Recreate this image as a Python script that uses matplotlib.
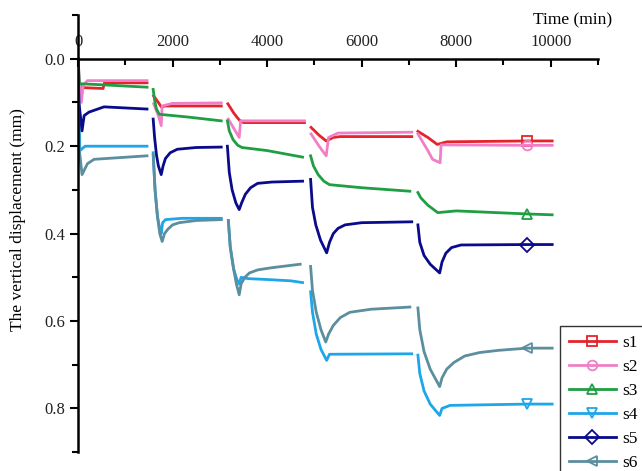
import numpy as np
import matplotlib
matplotlib.use("Agg")
import matplotlib.pyplot as plt
from matplotlib.ticker import MultipleLocator

plt.rcParams['font.family'] = ['Liberation Serif', 'DejaVu Serif']

nan = np.nan
labels = ['s1', 's2', 's3', 's4', 's5', 's6']
colors = ['#E5232B', '#F07FC8', '#1F9E43', '#1EA6EA', '#0A0A8C', '#5B8E9E']
markers = ['s', 'o', '^', 'v', 'D', '<']

# time (min) and displacement (mm), loading stages separated by nan
s1_t = [0, 20, 100, 530, 560, 1460, nan,
        1600, 1700, 1760, 1850, 3030, nan,
        3170, 3300, 3410, 3500, 4790, nan,
        4930, 5100, 5250, 5400, 5550, 7060, nan,
        7190, 7400, 7600, 7800, 9500, 10030]
s1_y = [0.0, 0.06, 0.066, 0.068, 0.055, 0.055, nan,
        0.085, 0.1, 0.11, 0.108, 0.108, nan,
        0.103, 0.125, 0.14, 0.146, 0.146, nan,
        0.157, 0.175, 0.188, 0.18, 0.178, 0.178, nan,
        0.166, 0.18, 0.196, 0.19, 0.188, 0.188]

s2_t = [0, 30, 70, 110, 200, 1460, nan,
        1600, 1700, 1760, 1780, 2000, 3030, nan,
        3180, 3300, 3410, 3440, 4790, nan,
        4930, 5100, 5250, 5300, 5500, 7060, nan,
        7190, 7400, 7500, 7660, 7680, 9500, 10030]
s2_y = [0.0, 0.05, 0.1, 0.06, 0.05, 0.05, nan,
        0.103, 0.13, 0.153, 0.108, 0.102, 0.101, nan,
        0.138, 0.16, 0.18, 0.142, 0.142, nan,
        0.172, 0.2, 0.222, 0.18, 0.17, 0.168, nan,
        0.172, 0.21, 0.23, 0.238, 0.197, 0.198, 0.198]

s3_t = [0, 30, 600, 1460, nan,
        1590, 1620, 1660, 1720, 2300, 3030, nan,
        3160, 3200, 3280, 3380, 3470, 4000, 4750, nan,
        4920, 4980, 5080, 5200, 5320, 6000, 7020, nan,
        7190, 7250, 7400, 7610, 8000, 9500, 10030]
s3_y = [0.0, 0.057, 0.06, 0.065, nan,
        0.07, 0.095, 0.115, 0.127, 0.133, 0.142, nan,
        0.142, 0.165, 0.185, 0.198, 0.203, 0.21, 0.225, nan,
        0.222, 0.245, 0.265, 0.28, 0.288, 0.295, 0.303, nan,
        0.306, 0.318, 0.335, 0.352, 0.348, 0.355, 0.357]

s4_t = [0, 40, 150, 1460, nan,
        1590, 1630, 1680, 1730, 1760, 1790, 1850, 2200, 3030, nan,
        3180, 3220, 3290, 3360, 3410, 3450, 3600, 4000, 4500, 4750, nan,
        4920, 4960, 5040, 5140, 5260, 5320, 7060, nan,
        7190, 7230, 7320, 7450, 7650, 7700, 7870, 9500, 10030]
s4_y = [0.0, 0.21, 0.2, 0.2, nan,
        0.215, 0.3, 0.36, 0.39, 0.40, 0.375, 0.368, 0.365, 0.365, nan,
        0.37, 0.43, 0.48, 0.505, 0.515, 0.5, 0.503, 0.505, 0.508, 0.512, nan,
        0.533, 0.58, 0.63, 0.665, 0.69, 0.676, 0.675, nan,
        0.678, 0.72, 0.76, 0.79, 0.816, 0.8, 0.793, 0.79, 0.79]

s5_t = [0, 20, 85, 130, 233, 550, 1460, nan,
        1590, 1620, 1660, 1700, 1760, 1800, 1850, 1950, 2100, 2500, 3030, nan,
        3160, 3200, 3260, 3340, 3410, 3460, 3540, 3650, 3800, 4100, 4750, nan,
        4920, 4960, 5030, 5130, 5260, 5320, 5400, 5500, 5650, 6000, 7060, nan,
        7190, 7230, 7320, 7450, 7650, 7700, 7780, 7900, 8100, 9500, 10030]
s5_y = [0.0, 0.1, 0.165, 0.13, 0.122, 0.11, 0.115, nan,
        0.138, 0.18, 0.22, 0.245, 0.265, 0.245, 0.228, 0.215, 0.207, 0.203, 0.202, nan,
        0.2, 0.26, 0.3, 0.33, 0.345, 0.33, 0.31, 0.295, 0.285, 0.282, 0.28, nan,
        0.276, 0.34, 0.38, 0.415, 0.444, 0.42, 0.4, 0.388, 0.38, 0.375, 0.373, nan,
        0.38, 0.42, 0.45, 0.47, 0.49, 0.465, 0.445, 0.432, 0.426, 0.425, 0.425]

s6_t = [0, 20, 85, 200, 340, 1460, nan,
        1590, 1630, 1680, 1730, 1780, 1830, 1900, 2000, 2140, 2500, 3030, nan,
        3180, 3220, 3290, 3350, 3410, 3450, 3530, 3625, 3800, 4100, 4700, nan,
        4920, 4960, 5040, 5140, 5240, 5300, 5400, 5550, 5750, 6200, 7020, nan,
        7190, 7230, 7320, 7450, 7650, 7700, 7800, 7950, 8180, 8500, 8900, 9500, 10030]
s6_y = [0.0, 0.2, 0.265, 0.24, 0.23, 0.222, nan,
        0.22, 0.3, 0.36, 0.4, 0.418, 0.4, 0.39, 0.38, 0.375, 0.37, 0.368, nan,
        0.37, 0.43, 0.48, 0.515, 0.54, 0.515, 0.5, 0.49, 0.483, 0.478, 0.47, nan,
        0.475, 0.53, 0.58, 0.62, 0.648, 0.63, 0.61, 0.592, 0.58, 0.573, 0.568, nan,
        0.57, 0.62, 0.67, 0.71, 0.75, 0.73, 0.71, 0.695, 0.68, 0.672, 0.667, 0.662, 0.662]

series_t = [s1_t, s2_t, s3_t, s4_t, s5_t, s6_t]
series_y = [s1_y, s2_y, s3_y, s4_y, s5_y, s6_y]
marker_time = 9500

fig = plt.figure(figsize=(6.42, 4.71), dpi=100)
ax = fig.add_axes([0.1215, 0.040, 0.81, 0.928])

for t, y, c, m, lab in zip(series_t, series_y, colors, markers, labels):
    idx = t.index(marker_time)
    ax.plot(t, y, color=c, lw=2.0, marker=m, markevery=[idx], markersize=7,
            markerfacecolor='none', markeredgecolor=c, markeredgewidth=1.3, label=lab)

ax.set_xlim(0, 11000)
ax.set_ylim(0.9, -0.1)

ax.spines['right'].set_visible(False)
ax.spines['bottom'].set_visible(False)
ax.spines['top'].set_position(('data', 0))
ax.spines['top'].set_linewidth(1.8)
ax.spines['left'].set_linewidth(1.8)
ax.xaxis.tick_top()
ax.xaxis.set_major_locator(MultipleLocator(2000))
ax.xaxis.set_minor_locator(MultipleLocator(1000))
ax.yaxis.set_minor_locator(MultipleLocator(0.1))
ax.set_yticks([0.0, 0.2, 0.4, 0.6, 0.8])
ax.set_yticklabels(['0.0', '0.2', '0.4', '0.6', '0.8'])
ax.tick_params(axis='x', which='major', direction='in', length=6, width=1.5, labelsize=12, pad=6)
ax.tick_params(axis='x', which='minor', direction='in', length=4, width=1.5)
ax.tick_params(axis='y', which='major', direction='out', length=6, width=1.5, labelsize=12, pad=3)
ax.tick_params(axis='y', which='minor', direction='out', length=4, width=1.5)
for lbl in ax.get_xticklabels() + ax.get_yticklabels():
    lbl.set_color('#222222')

fig.text(573 / 642, 1 - 20 / 471, 'Time (min)', fontsize=12.5, ha='center', va='center')
fig.text(18 / 642, 1 - 220 / 471, 'The vertical displacement (mm)', fontsize=12.5,
         rotation=90, ha='center', va='center')

leg = ax.legend(loc='upper left', bbox_to_anchor=(560 / 642, 1 - 326 / 471),
                bbox_transform=fig.transFigure, borderaxespad=0, fontsize=12.5,
                frameon=True, fancybox=False, edgecolor='#333333', framealpha=1,
                handlelength=2.7, handletextpad=0.4, labelspacing=0.45, borderpad=0.5)
leg.get_frame().set_linewidth(1.0)

fig.savefig('out.png', dpi=100)
